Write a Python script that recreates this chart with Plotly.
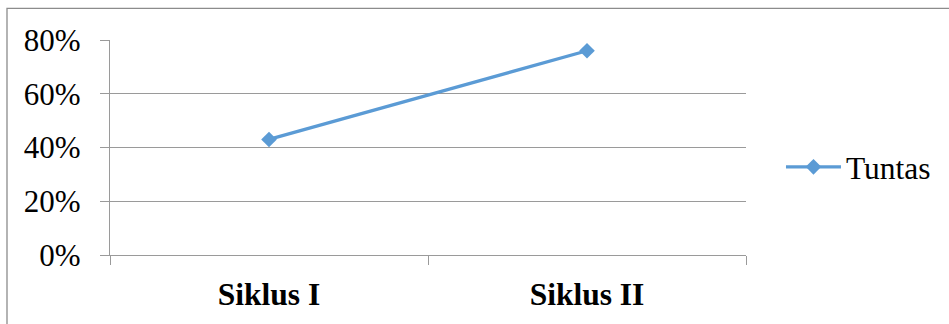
import plotly.graph_objects as go

categories = ["Siklus I", "Siklus II"]
tuntas = [0.43, 0.76]
y_ticks = [0, 0.2, 0.4, 0.6, 0.8]
y_tick_labels = ["0%", "20%", "40%", "60%", "80%"]

W, H = 949, 324
L, R, T, B = 110, 203, 40, 67
pw, ph = W - L - R, H - T - B
FONT = "Liberation Serif, Times New Roman, serif"

fig = go.Figure()
fig.add_trace(go.Scatter(
    x=categories, y=tuntas, name="Tuntas", mode="lines+markers",
    line=dict(color="#5B9BD5", width=3.3),
    marker=dict(symbol="diamond", size=12, color="#5B9BD5"),
))

grid = "#9a9a9a"
fig.update_layout(
    width=W, height=H,
    margin=dict(l=L, r=R, t=T, b=B, pad=0),
    paper_bgcolor="white", plot_bgcolor="white",
    font=dict(family=FONT, size=30, color="black"),
    showlegend=True,
    legend=dict(x=1.055, y=0.41, xanchor="left", yanchor="middle",
                font=dict(size=31.5, family=FONT), itemwidth=55, tracegroupgap=0),
    xaxis=dict(
        type="category", range=[-0.5, 1.5], tickson="boundaries",
        ticks="outside", ticklen=9, tickcolor=grid, tickwidth=1.3,
        showline=True, linecolor=grid, linewidth=1.3, showgrid=False,
        tickfont=dict(size=31.5, family=FONT, weight="bold"),
        ticklabelstandoff=11,
        fixedrange=True,
    ),
    yaxis=dict(
        range=[0, 0.8], tickvals=y_ticks, ticktext=y_tick_labels,
        ticks="outside", ticklen=9, tickcolor=grid, tickwidth=1.3,
        showline=True, linecolor=grid, linewidth=1.3,
        showgrid=True, gridcolor=grid, gridwidth=1.3, zeroline=False,
        tickfont=dict(size=31, family=FONT),
        ticklabelstandoff=13,
    ),
    shapes=[dict(
        type="rect", xref="paper", yref="paper",
        x0=(7 - L) / pw, x1=(W + 10 - L) / pw,
        y0=-(H + 10 - (H - B)) / ph, y1=((H - B) - 8) / ph,
        line=dict(color="#8c8c8c", width=1.3), layer="below",
    )],
)

fig.write_html("out.html")
